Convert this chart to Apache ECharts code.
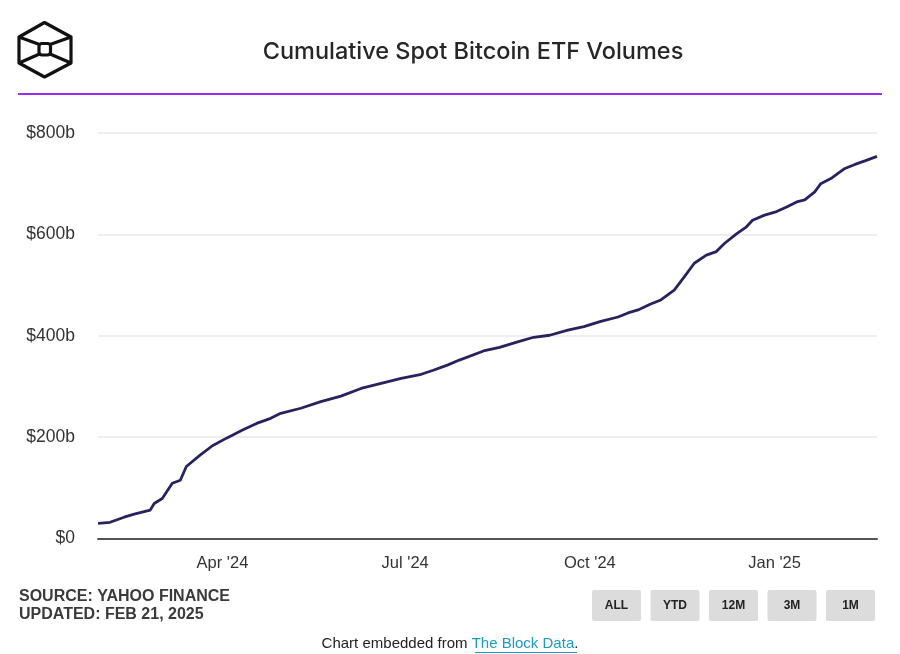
<!DOCTYPE html>
<html>
<head>
<meta charset="utf-8">
<script src="https://cdn.jsdelivr.net/npm/echarts@6/dist/echarts.min.js"></script>
<style>
html,body{margin:0;padding:0;background:#fff;}
#chart{width:900px;height:654px;}
</style>
</head>
<body>
<div id="chart"></div>
<script>
// ---- Data ----
const dates = [
  '2024-01-30','2024-02-05','2024-02-12','2024-02-17','2024-02-25','2024-02-27','2024-03-02',
  '2024-03-07','2024-03-11','2024-03-14','2024-03-21','2024-03-27','2024-04-03','2024-04-11',
  '2024-04-18','2024-04-25','2024-04-30','2024-05-10','2024-05-20','2024-05-30','2024-06-09',
  '2024-06-19','2024-06-29','2024-07-09','2024-07-15','2024-07-22','2024-07-28','2024-08-09',
  '2024-08-17','2024-08-26','2024-09-03','2024-09-11','2024-09-20','2024-09-28','2024-10-06',
  '2024-10-15','2024-10-20','2024-10-25','2024-10-31','2024-11-05','2024-11-12','2024-11-17',
  '2024-11-22','2024-11-28','2024-12-03','2024-12-07','2024-12-13','2024-12-18','2024-12-21',
  '2024-12-27','2025-01-02','2025-01-07','2025-01-12','2025-01-16','2025-01-21','2025-01-24',
  '2025-01-29','2025-02-05','2025-02-10','2025-02-15','2025-02-21'
];
const cumulativeVolumeB = [
  30, 32, 42, 48, 56, 69, 79,
  109, 115, 142, 165, 183, 198, 214,
  227, 237, 247, 257, 270, 281, 296,
  306, 316, 324, 332, 342, 352, 370,
  377, 388, 397, 401, 411, 418, 428,
  437, 445, 451, 462, 470, 490, 516,
  543, 559, 566, 582, 601, 615, 628,
  638, 645, 654, 664, 668, 684, 700,
  710, 730, 738, 745, 754
];
const xTickDates = ['2024-04-01','2024-07-01','2024-10-01','2025-01-01'];
const xTickLabels = ["Apr '24","Jul '24","Oct '24","Jan '25"];
const yTickValues = [0, 200, 400, 600, 800];
const yTickLabels = ['$0', '$200b', '$400b', '$600b', '$800b'];
const rangeButtons = ['ALL', 'YTD', '12M', '3M', '1M'];
const titleText = 'Cumulative Spot Bitcoin ETF Volumes';
const sourceText = 'SOURCE: YAHOO FINANCE';
const updatedText = 'UPDATED: FEB 21, 2025';

function toTs(s){ const p = s.split('-').map(Number); return Date.UTC(p[0], p[1]-1, p[2]); }
const tickTs = xTickDates.map(toTs);

const chart = echarts.init(document.getElementById('chart'), null, {renderer:'canvas'});

const SANS = '"Liberation Sans", Arial, sans-serif';
// logo (hexagon cube)
const hex = [[44.5,22.5],[71,37],[71,63],[44.5,77],[19,63],[19,37]];
const logoStyle = {stroke:'#111', lineWidth:3.2, fill:null, lineJoin:'round'};
const graphics = [
  {type:'polygon', shape:{points:hex}, style:logoStyle},
  {type:'rect', shape:{x:39, y:43.5, width:11.5, height:11.5, r:3}, style:logoStyle},
  {type:'line', shape:{x1:19,y1:37,x2:39.5,y2:44.5}, style:logoStyle},
  {type:'line', shape:{x1:71,y1:37,x2:50,y2:44.5}, style:logoStyle},
  {type:'line', shape:{x1:19,y1:63,x2:39.5,y2:54}, style:logoStyle},
  {type:'line', shape:{x1:71,y1:63,x2:50,y2:54}, style:logoStyle},
  {type:'text', x:473, y:52, style:{text:titleText, font:'500 23.5px Inter, Roboto, sans-serif', fill:'#262626', align:'center', verticalAlign:'middle'}},
  {type:'rect', shape:{x:18, y:93, width:864, height:2}, style:{fill:'#9a2cf0'}},
  {type:'text', x:19, y:597, style:{text:sourceText, font:'700 16px ' + SANS, fill:'#3a3a3a', align:'left', verticalAlign:'middle'}},
  {type:'text', x:19, y:614.5, style:{text:updatedText, font:'700 16px ' + SANS, fill:'#3a3a3a', align:'left', verticalAlign:'middle'}},
  {type:'text', x:450, y:644, style:{
    text:'{a|Chart embedded from }{b|The Block Data}{a|.}',
    align:'center', verticalAlign:'middle',
    rich:{
      a:{fontSize:15, fontFamily:SANS, fill:'#222'},
      b:{fontSize:15, fontFamily:SANS, fill:'#1a9bc7'}
    }
  }},
  {type:'line', shape:{x1:475,y1:652.5,x2:577,y2:652.5}, style:{stroke:'#1a9bc7', lineWidth:1}}
];
const btnX = [592, 650.5, 709, 767.5, 826];
rangeButtons.forEach((t,i)=>{
  graphics.push({type:'rect', shape:{x:btnX[i], y:590, width:49, height:31, r:2}, style:{fill:'#dcdcdc'}});
  graphics.push({type:'text', x:btnX[i]+24.5, y:606, style:{text:t, font:'700 12px ' + SANS, fill:'#222', align:'center', verticalAlign:'middle'}});
});

const option = {
  animation:false,
  backgroundColor:'#ffffff',
  grid:{left:98, right:23, top:133, bottom:115.5, containLabel:false},
  xAxis:{
    type:'value',
    min:toTs('2024-01-30'),
    max:toTs('2025-02-21'),
    axisLine:{show:true, onZero:false, lineStyle:{color:'#555', width:2}},
    axisTick:{show:false},
    splitLine:{show:false},
    axisLabel:{
      customValues:tickTs,
      formatter:function(v){ const i = tickTs.indexOf(v); return i>=0 ? xTickLabels[i] : ''; },
      color:'#333', fontSize:16.5, fontFamily:SANS, margin:16
    }
  },
  yAxis:{
    type:'value', min:0, max:800, interval:200,
    axisLine:{show:false}, axisTick:{show:false},
    splitLine:{lineStyle:{color:'#e8e8e8', width:1.5}},
    axisLabel:{
      formatter:function(v){ const i = yTickValues.indexOf(v); return i>=0 ? yTickLabels[i] : ''; },
      color:'#333', fontSize:17.5, fontFamily:SANS, margin:23
    }
  },
  series:[{
    type:'line',
    data:dates.map((d,i)=>[toTs(d), cumulativeVolumeB[i]]),
    showSymbol:false,
    symbol:'none',
    lineStyle:{color:'#27235e', width:2.8},
    smooth:false
  }],
  graphic:graphics
};
chart.setOption(option);
</script>
</body>
</html>
